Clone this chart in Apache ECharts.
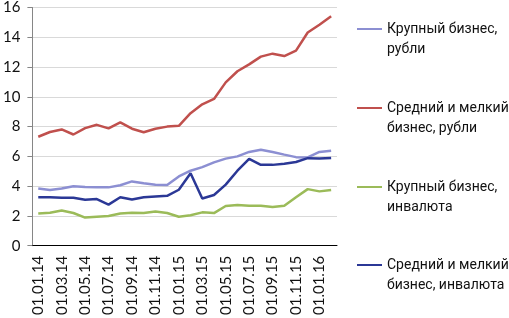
<!DOCTYPE html>
<html>
<head>
<meta charset="utf-8">
<script src="https://cdn.jsdelivr.net/npm/echarts@6/dist/echarts.min.js"></script>
<style>
  html, body { margin: 0; padding: 0; background: #fff; }
  #chart { width: 509px; height: 318px; }
</style>
</head>
<body>
<div id="chart"></div>
<script>
// месяцы (первое число)
const months = [
  '01.01.14', '01.02.14', '01.03.14', '01.04.14', '01.05.14', '01.06.14',
  '01.07.14', '01.08.14', '01.09.14', '01.10.14', '01.11.14', '01.12.14',
  '01.01.15', '01.02.15', '01.03.15', '01.04.15', '01.05.15', '01.06.15',
  '01.07.15', '01.08.15', '01.09.15', '01.10.15', '01.11.15', '01.12.15',
  '01.01.16', '01.02.16'
];

const seriesNames = [
  'Крупный бизнес, рубли',
  'Средний и мелкий бизнес, рубли',
  'Крупный бизнес, инвалюта',
  'Средний и мелкий бизнес, инвалюта'
];

// подписи легенды в две строки
const legendLines = [
  ['Крупный бизнес,', 'рубли'],
  ['Средний и мелкий', 'бизнес, рубли'],
  ['Крупный бизнес,', 'инвалюта'],
  ['Средний и мелкий', 'бизнес, инвалюта']
];

const seriesColors = ['#8c8fd2', '#c0504d', '#9bbb59', '#2b3896'];

const largeRub = [3.84, 3.74, 3.84, 4.0, 3.95, 3.92, 3.92, 4.06, 4.32, 4.2, 4.1, 4.08, 4.65,
  5.04, 5.28, 5.6, 5.85, 6.0, 6.3, 6.45, 6.3, 6.12, 5.95, 5.93, 6.3, 6.38];
const smallRub = [7.32, 7.64, 7.81, 7.47, 7.9, 8.12, 7.88, 8.29, 7.86, 7.62, 7.86, 8.0, 8.05,
  8.9, 9.5, 9.86, 10.97, 11.72, 12.18, 12.7, 12.9, 12.74, 13.1, 14.32, 14.84, 15.41];
const largeFx = [2.17, 2.21, 2.37, 2.2, 1.89, 1.95, 1.99, 2.17, 2.21, 2.2, 2.3, 2.2, 1.95,
  2.05, 2.24, 2.19, 2.67, 2.73, 2.69, 2.69, 2.6, 2.69, 3.26, 3.8, 3.65, 3.74];
const smallFx = [3.26, 3.26, 3.22, 3.22, 3.09, 3.13, 2.76, 3.26, 3.1, 3.25, 3.3, 3.35, 3.76,
  4.87, 3.17, 3.41, 4.1, 5.04, 5.84, 5.43, 5.43, 5.51, 5.62, 5.88, 5.86, 5.9];

const yTicks = { min: 0, max: 16, step: 2 };

const seriesData = [largeRub, smallRub, largeFx, smallFx];
const legendTops = [22, 101, 180, 258];

const chart = echarts.init(document.getElementById('chart'));
const font = 'Lato, "Open Sans", sans-serif';
const legendFont = 'Roboto, "Open Sans", sans-serif';

const option = {
  animation: false,
  backgroundColor: '#fff',
  textStyle: { fontFamily: font },
  grid: { left: 30, right: 172, top: 5, bottom: 67 },
  legend: seriesNames.map((name, i) => ({
    data: [name],
    orient: 'vertical',
    left: 357,
    top: legendTops[i],
    padding: 0,
    itemWidth: 25,
    itemHeight: 14,
    icon: 'path://M0,6H25V8H0Z',
    formatter: () => legendLines[i].map(s => '{t|' + s + '}').join('\n'),
    textStyle: {
      fontFamily: legendFont,
      fontSize: 14,
      color: '#111',
      padding: [20, 0, 0, 0],
      rich: {
        t: { fontFamily: legendFont, fontSize: 14, lineHeight: 20, color: '#111' }
      }
    }
  })),
  xAxis: {
    type: 'category',
    data: months,
    boundaryGap: true,
    axisLine: { lineStyle: { color: '#000', width: 1 } },
    axisTick: { interval: 0, length: 5, lineStyle: { color: '#000' } },
    axisLabel: {
      interval: 1,
      rotate: 90,
      margin: 10,
      fontSize: 15,
      color: '#111',
      fontFamily: font
    },
    splitLine: { show: false }
  },
  yAxis: {
    type: 'value',
    min: yTicks.min,
    max: yTicks.max,
    interval: yTicks.step,
    axisLine: { show: true, lineStyle: { color: '#868686' } },
    axisTick: { show: true, length: 5, lineStyle: { color: '#868686' } },
    axisLabel: { fontSize: 15, color: '#111', margin: 12, fontFamily: font },
    splitLine: { lineStyle: { color: '#d9d9d9' } }
  },
  series: seriesNames.map((name, i) => ({
    name: name,
    type: 'line',
    data: seriesData[i],
    symbol: 'none',
    color: seriesColors[i],
    lineStyle: { width: 2.5, color: seriesColors[i] }
  }))
};

chart.setOption(option);
</script>
</body>
</html>
